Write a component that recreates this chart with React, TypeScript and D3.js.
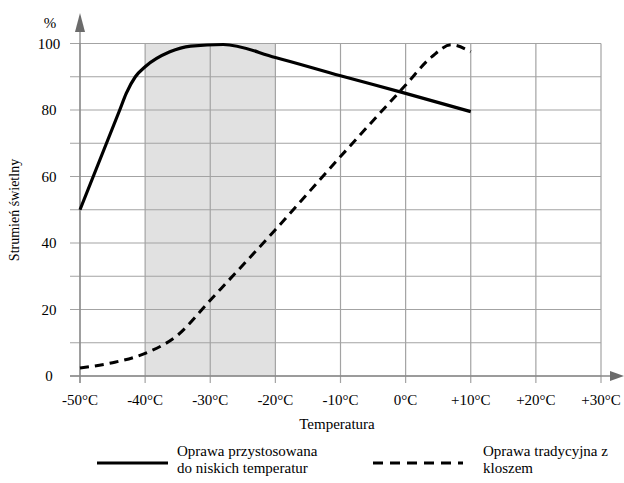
import { useEffect, useRef } from "react";
import * as d3 from "d3";

// temperatury (°C) i strumień świetlny (%)
const lowTempX = [-50, -43.9, -42.9, -41.5, -40, -36.2, -33, -28, -20, -10, 0, 10];
const lowTempY = [50, 80, 85, 90, 93, 97.5, 99.2, 99.7, 95.8, 90.3, 85, 79.5];
const classicX = [-50, -45, -40, -35, -30, -20, -10, 0, 4, 7, 10];
const classicY = [2.4, 4, 6.8, 12.3, 22.8, 44, 66, 87.5, 96, 99.6, 97.5];
const xTicks = [-50, -40, -30, -20, -10, 0, 10, 20, 30];
const yGrid = [0, 10, 20, 30, 40, 50, 60, 70, 80, 90, 100];
const yLabels = [0, 20, 40, 60, 80, 100];
const shadedRange = [-40, -20];

const W = 624;
const H = 483;
const FONT = "'Liberation Serif', 'DejaVu Serif', serif";

function fmtTemp(t: number) {
  if (t > 0) return `+${t}°C`;
  return `${t}°C`;
}

export default function App() {
  const svgRef = useRef<SVGSVGElement>(null);

  useEffect(() => {
    if (!svgRef.current) return;
    const svg = d3.select(svgRef.current);
    svg.selectAll("*").remove();

    const x = d3.scaleLinear().domain([-50, 30]).range([80, 601]);
    const y = d3.scaleLinear().domain([0, 100]).range([376, 43.5]);
    const gridColor = "#a3a3a3";

    // zacieniony zakres
    svg.append("rect")
      .attr("x", x(shadedRange[0]))
      .attr("y", y(100))
      .attr("width", x(shadedRange[1]) - x(shadedRange[0]))
      .attr("height", y(0) - y(100))
      .attr("fill", "#e1e1e1");

    // siatka pozioma
    svg.selectAll("line.h")
      .data(yGrid)
      .join("line")
      .attr("x1", 70)
      .attr("x2", x(30))
      .attr("y1", d => y(d))
      .attr("y2", d => y(d))
      .attr("stroke", gridColor)
      .attr("stroke-width", 1.2);

    // siatka pionowa
    svg.selectAll("line.v")
      .data(xTicks)
      .join("line")
      .attr("x1", d => x(d))
      .attr("x2", d => x(d))
      .attr("y1", y(100))
      .attr("y2", y(0) + 7)
      .attr("stroke", gridColor)
      .attr("stroke-width", 1.2);

    // osie
    svg.append("line")
      .attr("x1", x(-50)).attr("x2", x(-50))
      .attr("y1", y(0) + 7).attr("y2", 30)
      .attr("stroke", "#888").attr("stroke-width", 1.3);
    svg.append("path")
      .attr("d", `M${x(-50) - 5},32 L${x(-50) + 5},32 L${x(-50)},13 Z`)
      .attr("fill", "#6b6b6b");
    svg.append("line")
      .attr("x1", 70).attr("x2", 612)
      .attr("y1", y(0)).attr("y2", y(0))
      .attr("stroke", "#888").attr("stroke-width", 1.3);
    svg.append("path")
      .attr("d", `M610,${y(0) - 5} L610,${y(0) + 5} L624,${y(0)} Z`)
      .attr("fill", "#6b6b6b");

    // etykiety osi Y
    svg.selectAll("text.yl")
      .data(yLabels)
      .join("text")
      .attr("x", 49)
      .attr("y", d => y(d) + 5)
      .attr("text-anchor", "middle")
      .style("font-family", FONT)
      .style("font-size", "15px")
      .text(d => d);
    svg.append("text")
      .attr("x", 50).attr("y", 28)
      .attr("text-anchor", "middle")
      .style("font-family", FONT)
      .style("font-size", "15px")
      .text("%");
    svg.append("text")
      .attr("transform", `translate(19, 210) rotate(-90)`)
      .attr("text-anchor", "middle")
      .style("font-family", FONT)
      .style("font-size", "14px")
      .text("Strumień świetlny");

    // etykiety osi X
    svg.selectAll("text.xl")
      .data(xTicks)
      .join("text")
      .attr("x", d => x(d))
      .attr("y", 405)
      .attr("text-anchor", "middle")
      .style("font-family", FONT)
      .style("font-size", "15px")
      .text(d => fmtTemp(d));
    svg.append("text")
      .attr("x", 337).attr("y", 429)
      .attr("text-anchor", "middle")
      .style("font-family", FONT)
      .style("font-size", "15px")
      .text("Temperatura");

    const line = d3.line<[number, number]>()
      .x(d => x(d[0]))
      .y(d => y(d[1]))
      .curve(d3.curveMonotoneX);

    svg.append("path")
      .datum(classicX.map((t, i) => [t, classicY[i]] as [number, number]))
      .attr("d", line)
      .attr("fill", "none")
      .attr("stroke", "#000")
      .attr("stroke-width", 3)
      .attr("stroke-dasharray", "9,6");

    svg.append("path")
      .datum(lowTempX.map((t, i) => [t, lowTempY[i]] as [number, number]))
      .attr("d", line)
      .attr("fill", "none")
      .attr("stroke", "#000")
      .attr("stroke-width", 3.2);

    // legenda
    const leg = svg.append("g").style("font-family", FONT).style("font-size", "15px");
    leg.append("line")
      .attr("x1", 97).attr("x2", 168).attr("y1", 463).attr("y2", 463)
      .attr("stroke", "#000").attr("stroke-width", 3.2);
    leg.append("text").attr("x", 177).attr("y", 456).text("Oprawa przystosowana");
    leg.append("text").attr("x", 177).attr("y", 473).text("do niskich temperatur");
    leg.append("line")
      .attr("x1", 373).attr("x2", 463).attr("y1", 463).attr("y2", 463)
      .attr("stroke", "#000").attr("stroke-width", 3.2)
      .attr("stroke-dasharray", "10,7");
    leg.append("text").attr("x", 483).attr("y", 456).text("Oprawa tradycyjna z");
    leg.append("text").attr("x", 483).attr("y", 473).text("kloszem");
  }, []);

  return (
    <svg
      ref={svgRef}
      width={W}
      height={H}
      viewBox={`0 0 ${W} ${H}`}
      style={{ display: "block", position: "absolute", left: 0, top: 0, background: "#fff" }}
    />
  );
}
